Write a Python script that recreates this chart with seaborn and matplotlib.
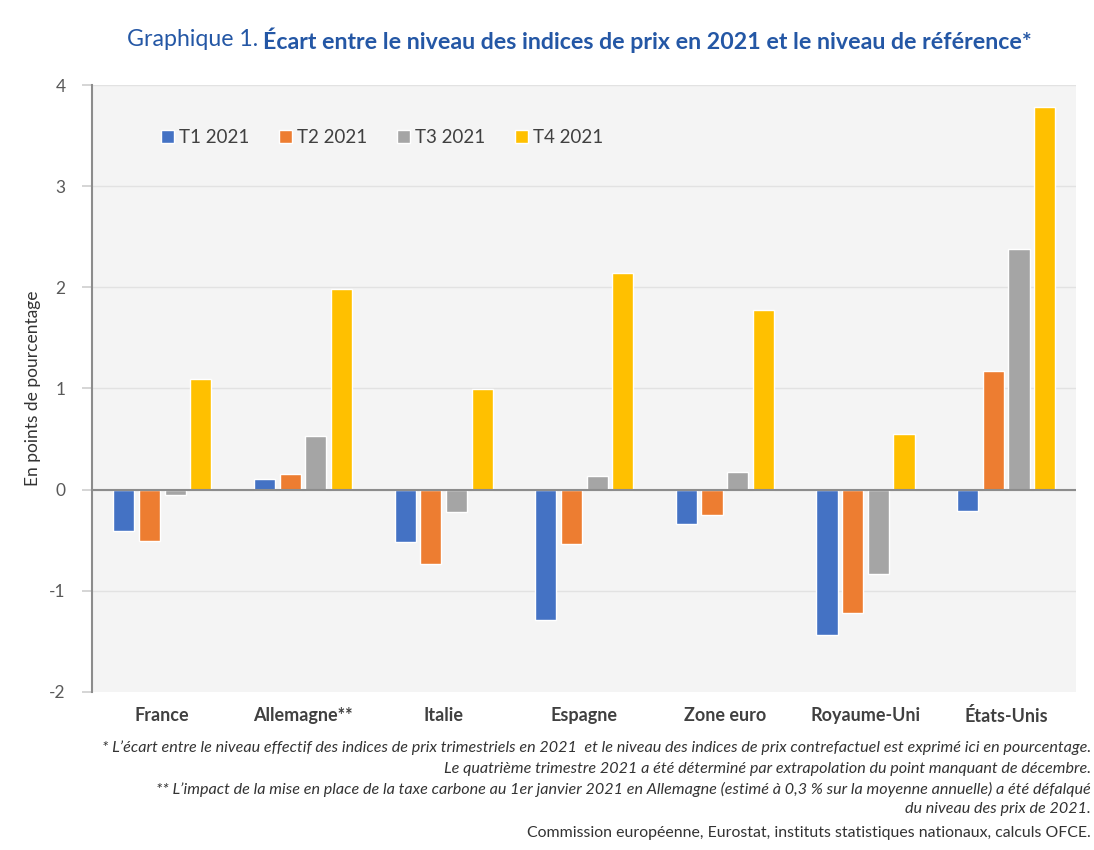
import pandas as pd
import seaborn as sns
import matplotlib.pyplot as plt

sns.set_theme(style='white')
plt.rcParams['font.family'] = ['Lato', 'DejaVu Sans']
plt.rcParams['axes.unicode_minus'] = False

# values
pays = ['France', 'Allemagne**', 'Italie', 'Espagne', 'Zone euro', 'Royaume-Uni', 'États-Unis']
trimestres = ['T1 2021', 'T2 2021', 'T3 2021', 'T4 2021']
t1 = [-0.41, 0.10, -0.52, -1.29, -0.34, -1.44, -0.21]
t2 = [-0.51, 0.15, -0.74, -0.54, -0.25, -1.22, 1.17]
t3 = [-0.05, 0.53, -0.22, 0.13, 0.17, -0.83, 2.38]
t4 = [1.09, 1.98, 0.99, 2.14, 1.78, 0.55, 3.78]
couleurs = ['#4472C4', '#ED7D31', '#A5A5A5', '#FFC000']

df = pd.DataFrame({'pays': pays * 4,
                   'trimestre': [t for t in trimestres for _ in pays],
                   'ecart': t1 + t2 + t3 + t4})

fig = plt.figure(figsize=(10.94, 8.5), dpi=100)
ax = fig.add_axes([0.084, 0.186, 0.9, 0.714])
ax.set_facecolor('#f4f4f4')

sns.barplot(data=df, x='pays', y='ecart', hue='trimestre', palette=couleurs,
            width=0.73, gap=0.18, ax=ax, saturation=1, legend=True)

ax.set_ylim(-2, 4)
ax.set_yticks(range(-2, 5))
for v in range(-1, 5):
    ax.axhline(v, color='#e2e2e2', lw=1, zorder=0)
ax.axhline(0, color='#8c8c8c', lw=1.5, zorder=3)

for s in ['top', 'right', 'bottom']:
    ax.spines[s].set_visible(False)
ax.spines['left'].set_color('#8c8c8c')
ax.spines['left'].set_linewidth(1.5)

ax.tick_params(axis='y', left=True, length=7, color='#d0d0d0', labelsize=12.5,
               labelcolor='#595959', pad=12)
ax.tick_params(axis='x', bottom=False, labelsize=13, labelcolor='#404040', pad=5)
for lab in ax.get_xticklabels():
    lab.set_fontweight('bold')

ax.set_xlabel('')
ax.set_ylabel('En points de pourcentage', fontsize=12.5, color='#333333', labelpad=6)

ax.legend(loc='upper left', bbox_to_anchor=(0.053, 0.955), ncol=4, frameon=False,
          handlelength=0.7, handleheight=0.7, handletextpad=0.25, columnspacing=1.6,
          fontsize=13.5, labelcolor='#404040', title=None)

bleu = '#2457A5'
fig.text(0.236, 0.953, 'Graphique 1.', ha='right', va='center', fontsize=16.7, color=bleu)
fig.text(0.240, 0.953, 'Écart entre le niveau des indices de prix en 2021 et le niveau de référence*',
         ha='left', va='center', fontsize=16.7, color=bleu, fontweight='bold')

notes = ['* L\u2019écart entre le niveau effectif des indices de prix trimestriels en 2021  et le niveau des indices de prix contrefactuel est exprimé ici en pourcentage.',
         'Le quatrième trimestre 2021 a été déterminé par extrapolation du point manquant de décembre.',
         '** L\u2019impact de la mise en place de la taxe carbone au 1er janvier 2021 en Allemagne (estimé à 0,3 % sur la moyenne annuelle) a été défalqué',
         'du niveau des prix de 2021.']
for i, n in enumerate(notes):
    fig.text(0.997, 1 - (748 + 20.5 * i) / 850, n, ha='right', va='center',
             fontsize=11.6, style='italic', color='#333333')
fig.text(0.997, 1 - 833 / 850, 'Commission européenne, Eurostat, instituts statistiques nationaux, calculs OFCE.',
         ha='right', va='center', fontsize=11.4, color='#333333')

fig.savefig('out.png', dpi=100, facecolor='white')
